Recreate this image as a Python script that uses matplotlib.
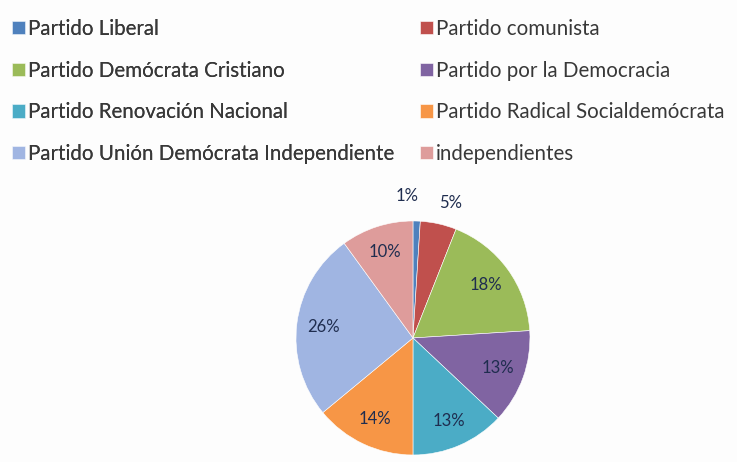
import matplotlib
matplotlib.use("Agg")
from matplotlib import pyplot as plt

# Datos
partidos = ['Partido Liberal', 'Partido comunista', 'Partido Demócrata Cristiano',
            'Partido por la Democracia', 'Partido Renovación Nacional',
            'Partido Radical Socialdemócrata', 'Partido Unión Demócrata Independiente',
            'independientes']
porcentajes = [1, 5, 18, 13, 13, 14, 26, 10]
colores = ['#4F81BD', '#C0504D', '#9BBB59', '#8064A2', '#4BACC6', '#F79646',
           '#A0B5E2', '#DE9C9B']

plt.rcParams['font.family'] = ['Lato', 'DejaVu Sans']

fig = plt.figure(figsize=(7.37, 4.62), dpi=100)
fig.patch.set_facecolor('#fdfdfd')

ax = fig.add_axes([0.4016, 0.0152, 0.3175, 0.5065])
wedges, texts, autotexts = ax.pie(
    porcentajes, colors=colores, startangle=90, counterclock=False,
    autopct='%d%%', pctdistance=0.77, radius=1,
    wedgeprops=dict(edgecolor='white', linewidth=0.4),
    textprops=dict(fontsize=12, color='#1F2D4F'))
ax.set_xlim(-1, 1)
ax.set_ylim(-1, 1)
ax.set_aspect('equal')

# etiquetas pequeñas fuera del pastel
autotexts[0].set_position((-0.05, 1.21))
autotexts[1].set_position((0.32, 1.15))

# leyenda: dos columnas, orden por filas
col1 = [0, 2, 4, 6]
col2 = [1, 3, 5, 7]
opts = dict(loc='upper left', frameon=False, fontsize=14.8, handlelength=0.63,
            handleheight=0.63, handletextpad=0.15, labelspacing=1.05,
            borderpad=0, borderaxespad=0, labelcolor='#383838')
leg1 = fig.legend([wedges[i] for i in col1], [partidos[i] for i in col1],
                  bbox_to_anchor=(0.0163, 0.959), **opts)
fig.add_artist(leg1)
fig.legend([wedges[i] for i in col2], [partidos[i] for i in col2],
           bbox_to_anchor=(0.570, 0.959), **opts)

fig.savefig('out.png', dpi=100, facecolor=fig.get_facecolor())
